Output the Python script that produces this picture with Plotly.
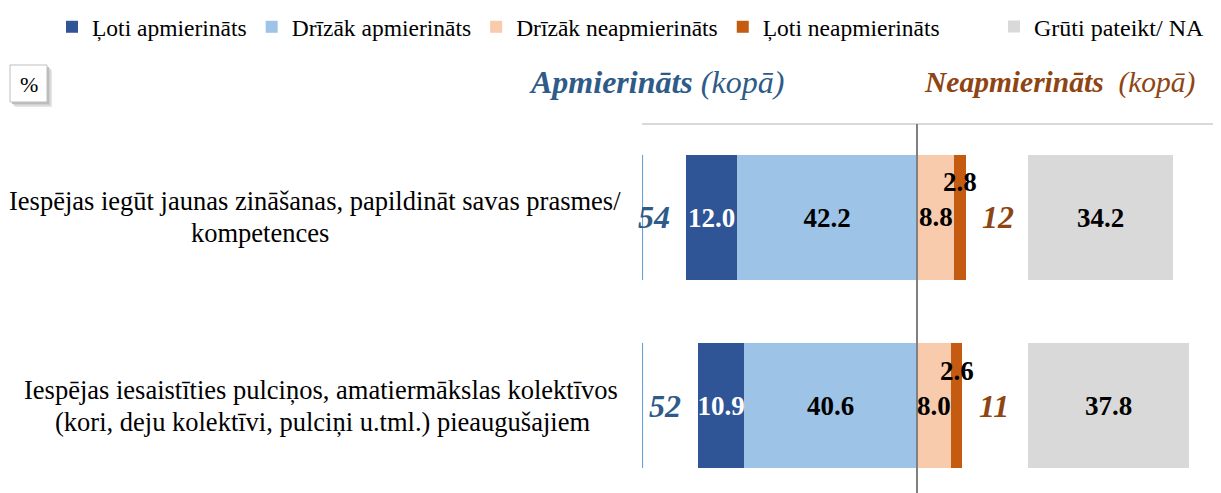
import plotly.graph_objects as go

# ---- data ----
categories = [
    ["Iespējas iegūt jaunas zināšanas, papildināt savas prasmes/", "kompetences"],
    ["Iespējas iesaistīties pulciņos, amatiermākslas kolektīvos",
     "(kori, deju kolektīvi, pulciņi u.tml.) pieaugušajiem"],
]
loti_apm = [12.0, 10.9]
drizak_apm = [42.2, 40.6]
drizak_neapm = [8.8, 8.0]
loti_neapm = [2.8, 2.6]
gruti_na = [34.2, 37.8]

series_names = ["Ļoti apmierināts", "Drīzāk apmierināts", "Drīzāk neapmierināts",
                "Ļoti neapmierināts", "Grūti pateikt/ NA"]
colors = ["#2F5597", "#9DC3E6", "#F8CBAD", "#C55A11", "#D9D9D9"]

NA_BASE = 26
FONT = "Liberation Serif, Times New Roman, Times, DejaVu Serif, serif"
OFF = 8                      # page body margin
W, H = 1221 - OFF, 493 - OFF
ML, MT = 642 - OFF, 124 - OFF
PW, PH = W - ML, H - MT

def px_x(p):                 # screen px -> paper x
    return (p - OFF - ML) / PW

def px_y(p):                 # screen px -> paper y
    return (H - (p - OFF)) / PH

ys = list(range(len(categories)))
bw = 0.665

fig = go.Figure()
lbl = dict(family=FONT, size=27, color="black")

common = dict(orientation="h", width=bw, hoverinfo="skip", textangle=0,
              constraintext="none", insidetextanchor="middle", cliponaxis=False)

fig.add_trace(go.Bar(
    y=ys, x=[-v for v in drizak_apm], name=series_names[1],
    marker=dict(color=colors[1], line=dict(width=0)), legendrank=2,
    text=[f"<b>{v:.1f}</b>" for v in drizak_apm], textposition="inside",
    textfont=lbl, **common))
fig.add_trace(go.Bar(
    y=ys, x=[-v for v in loti_apm], name=series_names[0],
    marker=dict(color=colors[0], line=dict(width=0)), legendrank=1,
    text=[f"<b>{v:.1f}</b>" for v in loti_apm], textposition="inside",
    textfont=dict(family=FONT, size=27, color="white"), **common))
fig.add_trace(go.Bar(
    y=ys, x=drizak_neapm, name=series_names[2],
    marker=dict(color=colors[2], line=dict(width=0)), legendrank=3,
    textposition="none", **common))
fig.add_trace(go.Bar(
    y=ys, x=loti_neapm, name=series_names[3],
    marker=dict(color=colors[3], line=dict(width=0)), legendrank=4,
    textposition="none", **common))
fig.add_trace(go.Bar(
    y=ys, x=gruti_na, base=NA_BASE, name=series_names[4],
    marker=dict(color=colors[4], line=dict(width=0)), legendrank=5,
    legend="legend2",
    text=[f"<b>{v:.1f}</b>" for v in gruti_na], textposition="inside",
    textfont=lbl, **common))

ann = []
shapes = []
for i in ys:
    pos_total = loti_apm[i] + drizak_apm[i]
    neg_total = drizak_neapm[i] + loti_neapm[i]
    # small-segment labels
    ann.append(dict(x=drizak_neapm[i] / 2, y=i, xref="x", yref="y", showarrow=False,
                    xanchor="center", yanchor="middle",
                    text=f"<b>{drizak_neapm[i]:.1f}</b>", font=lbl))
    ann.append(dict(x=drizak_neapm[i] + loti_neapm[i] / 2, y=i, xref="x", yref="y",
                    showarrow=False, yshift=35, xanchor="center", yanchor="middle",
                    text=f"<b>{loti_neapm[i]:.1f}</b>", font=lbl))
    # totals
    ann.append(dict(x=-pos_total - 7.6, y=i, xref="x", yref="y", showarrow=False,
                    xanchor="center", yanchor="middle",
                    text=f"<b><i>{int(pos_total + 0.5)}</i></b>",
                    font=dict(family=FONT, size=32, color="#2E5B88")))
    ann.append(dict(x=neg_total + 7.5, y=i, xref="x", yref="y", showarrow=False,
                    xanchor="center", yanchor="middle",
                    text=f"<b><i>{int(neg_total + 0.5)}</i></b>",
                    font=dict(family=FONT, size=32, color="#8E4513")))
    # thin left marker line
    shapes.append(dict(type="line", xref="x domain", yref="y", x0=0.001, x1=0.001,
                       y0=i - bw / 2, y1=i + bw / 2,
                       line=dict(color="#5B9BD5", width=1)))

# category labels (centered lines)
label_centers = [[315, 260], [321, 322]]
for i, lines in enumerate(categories):
    n = len(lines)
    for j, line in enumerate(lines):
        ann.append(dict(x=px_x(label_centers[i][j]), y=i, xref="paper", yref="y",
                        xanchor="center", yanchor="middle", showarrow=False, text=line,
                        yshift=(n - 1) * 16 - j * 32,
                        font=dict(family=FONT, size=26.5, color="black")))

# headers
ann.append(dict(x=px_x(656), y=px_y(82), xref="paper", yref="paper", showarrow=False,
                xanchor="center", yanchor="middle",
                text="<b><i>Apmierināts</i></b><i> (kopā)</i>",
                font=dict(family=FONT, size=32, color="#2E5B88")))
ann.append(dict(x=px_x(922), y=px_y(82), xref="paper", yref="paper", showarrow=False,
                xanchor="left", yanchor="middle",
                text="<b><i>Neapmierināts</i></b><i>  (kopā)</i>",
                font=dict(family=FONT, size=29.5, color="#8E4513")))
# % box with soft shadow
for k, c in enumerate(["#E6E6E6", "#D0D0D0", "#BDBDBD"]):
    off = 5 - k * 1.5
    shapes.append(dict(type="rect", xref="paper", yref="paper",
                       x0=px_x(10 + off), x1=px_x(47 + off),
                       y0=px_y(102 + off), y1=px_y(65 + off),
                       fillcolor=c, line=dict(width=0), layer="above"))
shapes.append(dict(type="rect", xref="paper", yref="paper",
                   x0=px_x(10), x1=px_x(47), y0=px_y(102), y1=px_y(65),
                   fillcolor="white", line=dict(color="#BFBFBF", width=1), layer="above"))
ann.append(dict(x=px_x(28.5), y=px_y(84), xref="paper", yref="paper", showarrow=False,
                xanchor="center", yanchor="middle",
                text="%", font=dict(family=FONT, size=22, color="black")))

# top gray line and zero line
shapes.append(dict(type="line", xref="paper", yref="paper", x0=0, x1=1, y0=1, y1=1,
                   line=dict(color="#D9D9D9", width=2)))
shapes.append(dict(type="line", xref="x", yref="paper", x0=0, x1=0, y0=0, y1=1,
                   line=dict(color="#808080", width=2), layer="above"))

fig.update_layout(
    width=W, height=H,
    margin=dict(l=ML, r=0, t=MT, b=0, pad=0, autoexpand=False),
    barmode="relative",
    bargap=0,
    plot_bgcolor="white", paper_bgcolor="white",
    font=dict(family=FONT, size=24, color="black"),
    xaxis=dict(range=[-275 / 4.26, 304 / 4.26], visible=False, fixedrange=True),
    yaxis=dict(range=[1.465, -0.497], visible=False, fixedrange=True),
    showlegend=True,
    legend=dict(orientation="h", x=px_x(52), y=px_y(27), xanchor="left", yanchor="middle",
                font=dict(family=FONT, size=23.5, color="black"), itemwidth=30,
                bgcolor="rgba(0,0,0,0)", traceorder="normal"),
    legend2=dict(orientation="h", x=px_x(994), y=px_y(27), xanchor="left", yanchor="middle",
                 font=dict(family=FONT, size=24, color="black"), itemwidth=30,
                 bgcolor="rgba(0,0,0,0)"),
    annotations=ann,
    shapes=shapes,
)

fig.write_html("out.html")
